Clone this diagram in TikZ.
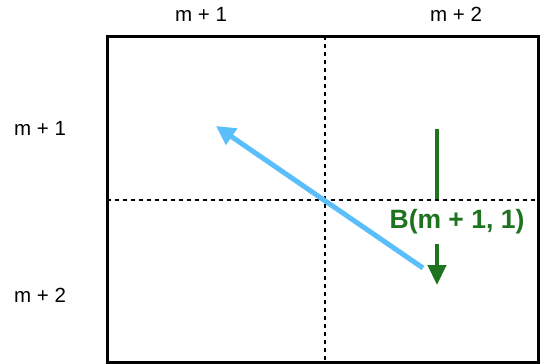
\documentclass[tikz,border=0pt]{standalone}
\usepackage{fontspec}
\setmainfont{Liberation Sans}
\usepackage{xcolor}
\usetikzlibrary{arrows.meta, positioning}

\definecolor{skyblue}{RGB}{90,190,250}
\definecolor{blockgreen}{RGB}{30,115,30}

\begin{document}
\begin{tikzpicture}[
    x=1pt, y=-1pt,
    lbl/.style={font=\fontsize{20.5}{24}\selectfont, inner sep=0pt},
    grid/.style={dashed, line width=1.8pt, dash pattern=on 4pt off 4pt},
    frame/.style={line width=3pt},
    move/.style={-{Triangle[length=19pt, width=19pt]}, line width=5pt, skyblue},
    blk/.style={line width=4.5pt, blockgreen},
    blkarr/.style={blk, -{Triangle[length=20pt, width=18pt]}}
]
\useasboundingbox (0,0) rectangle (542,364);

% outer frame and the block grid
\coordinate (tl) at (107,36);
\coordinate (br) at (538,362);
\draw[frame] (tl) rectangle (br);
\coordinate (vtop) at (325,36);
\coordinate (vbot) at (325,362);
\coordinate (hl) at (107,200);
\coordinate (hr) at (538,200);
\draw[grid] (vtop) -- (vbot);
\draw[grid] (hl) -- (hr);

% index labels
\node[lbl] (col1) at (201,14) {m + 1};
\node[lbl] (col2) at (456,14) {m + 2};
\node[lbl] (row1) at (40,128) {m + 1};
\node[lbl] (row2) at (40,295) {m + 2};

% blue move
\coordinate (bstart) at (423,268);
\coordinate (bend) at (216,126);
\draw[move] (bstart) -- (bend);

% green block arrow
\node[font=\bfseries\fontsize{26.5}{30}\selectfont, text=blockgreen, inner sep=0pt] (blabel) at (457,222) {B(m + 1, 1)};
\coordinate (gtop) at (437,129);
\coordinate (gmid) at (437,199);
\coordinate (glow) at (437,244);
\coordinate (gbot) at (437,285);
\draw[blk] (gtop) -- (gmid);
\draw[blkarr] (glow) -- (gbot);
\end{tikzpicture}
\end{document}
